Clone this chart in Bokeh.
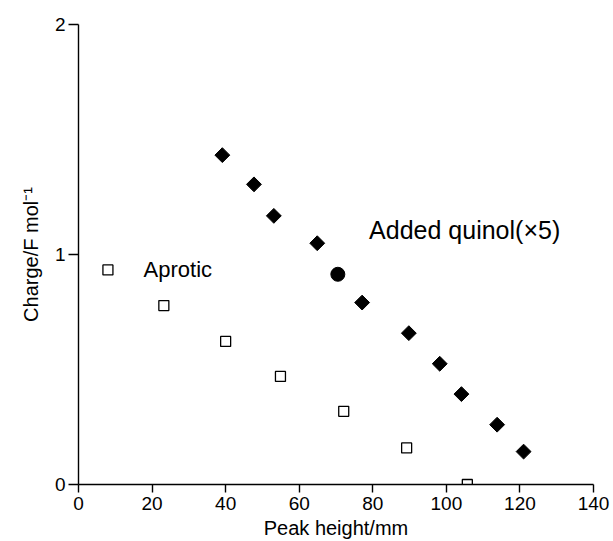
from bokeh.plotting import figure
from bokeh.models import Range1d, Label
from bokeh.embed import file_html
from bokeh.resources import INLINE

# ---- data ----
aprotic_x = [8.0, 23.2, 40.0, 54.9, 72.1, 89.2, 105.7]
aprotic_y = [0.933, 0.778, 0.622, 0.470, 0.318, 0.159, 0.0]

quinol_x = [39.1, 47.7, 53.1, 64.9, 77.1, 89.8, 98.2, 104.1, 113.8, 121.0]
quinol_y = [1.432, 1.305, 1.168, 1.049, 0.791, 0.658, 0.525, 0.393, 0.260, 0.143]

circle_x = [70.5]
circle_y = [0.914]

x_ticks = [0, 20, 40, 60, 80, 100, 120, 140]
y_ticks = [0, 1, 2]

x_label = "Peak height/mm"
y_label = "Charge/F mol\u207b\u00b9"
aprotic_label = "Aprotic"
quinol_label = "Added quinol(\u00d75)"

FONT = "Liberation Sans"

p = figure(width=611, height=541,
           x_range=Range1d(0, 140), y_range=Range1d(0, 2),
           output_backend="svg", toolbar_location=None,
           min_border_left=78, min_border_right=18,
           min_border_top=24, min_border_bottom=56)
p.outline_line_color = None
p.grid.visible = False
p.background_fill_color = "white"

p.xaxis.ticker = x_ticks
p.yaxis.ticker = y_ticks

for ax in (p.xaxis[0], p.yaxis[0]):
    ax.minor_tick_line_color = None
    ax.major_tick_in = 0
    ax.axis_line_color = "black"
    ax.axis_line_width = 1.4
    ax.major_tick_line_color = "black"
    ax.major_tick_line_width = 1.4
    ax.major_label_text_font = FONT
    ax.major_label_text_font_size = "19px"
    ax.major_label_text_color = "black"
    ax.axis_label_text_font = FONT
    ax.axis_label_text_font_size = "20px"
    ax.axis_label_text_font_style = "normal"
    ax.axis_label_text_color = "black"

p.xaxis.major_tick_out = 8
p.yaxis.major_tick_out = 10
p.xaxis.major_label_standoff = 4
p.yaxis.major_label_standoff = 3
p.xaxis.axis_label = x_label
p.yaxis.axis_label = y_label
p.xaxis.axis_label_standoff = 4
p.yaxis.axis_label_standoff = 10

p.scatter(aprotic_x, aprotic_y, marker="square", size=10,
          fill_color="white", line_color="black", line_width=1.3)
p.scatter(quinol_x, quinol_y, marker="square", angle=0.785398, size=10.5,
          fill_color="black", line_color="black")
p.scatter(circle_x, circle_y, marker="circle", size=14,
          fill_color="black", line_color="black")

p.add_layout(Label(x=17.7, y=0.933, text=aprotic_label, text_font=FONT,
                   text_font_size="22px", text_baseline="middle",
                   text_align="left", text_color="black"))
p.add_layout(Label(x=79.0, y=1.106, text=quinol_label, text_font=FONT,
                   text_font_size="25px", text_baseline="middle",
                   text_align="left", text_color="black"))

open("out.html", "w").write(file_html(p, INLINE))
